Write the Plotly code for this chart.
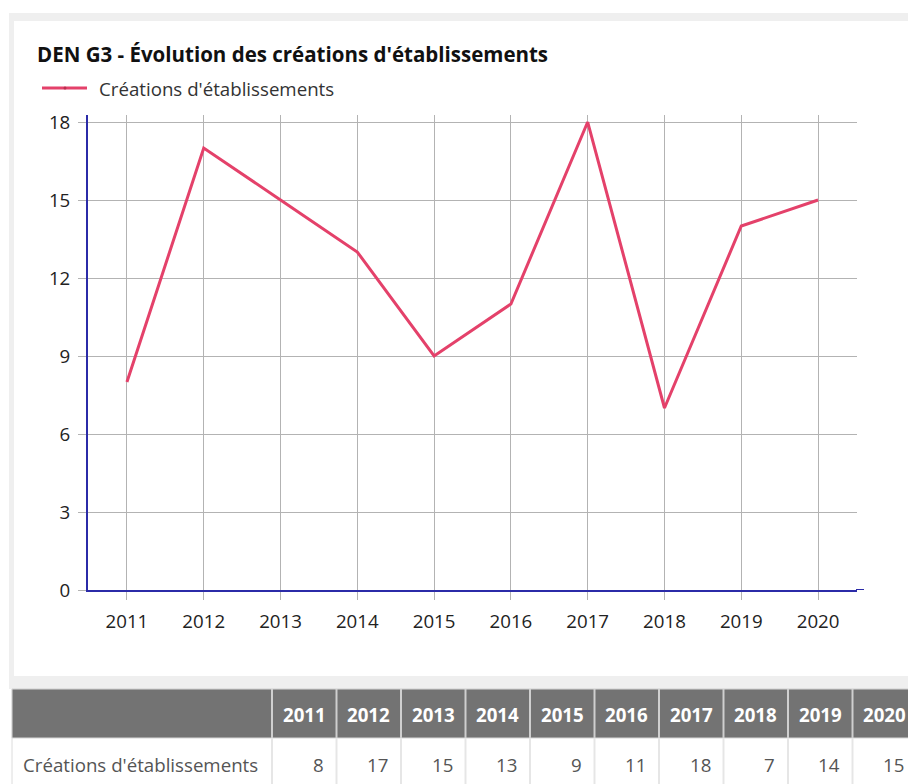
import plotly.graph_objects as go

# Data
years = ["2011", "2012", "2013", "2014", "2015", "2016", "2017", "2018", "2019", "2020"]
creations = [8, 17, 15, 13, 9, 11, 18, 7, 14, 15]
series_name = "Créations d'établissements"
title_text = "DEN G3 - Évolution des créations d'établissements"
y_ticks = [0, 3, 6, 9, 12, 15, 18]

W, H = 908, 784
LINE_COLOR = "#e4416a"
AXIS_COLOR = "#2b2ba8"
GRID_COLOR = "#b3b3b3"
FONT = "Open Sans"
FS = 18.7


def px(x):
    return x / W


def py(y):
    return 1 - y / H


fig = go.Figure()

fig.add_trace(go.Scatter(
    x=years, y=creations, mode="lines", name=series_name,
    line=dict(color=LINE_COLOR, width=3), showlegend=False,
    hoverinfo="x+y",
))

shapes = [
    # card frame
    dict(type="rect", xref="paper", yref="paper", x0=px(9), x1=1, y0=py(689), y1=py(13),
         fillcolor="#efefef", line=dict(width=0), layer="below"),
    dict(type="rect", xref="paper", yref="paper", x0=px(14), x1=1, y0=py(676), y1=py(21),
         fillcolor="white", line=dict(width=0), layer="below"),
    # x axis line continues past the last gridline
    dict(type="line", xref="paper", yref="y", x0=px(856), x1=px(864), y0=0, y1=0,
         line=dict(color=AXIS_COLOR, width=2)),
    # legend swatch
    dict(type="line", xref="paper", yref="paper", x0=px(42), x1=px(87), y0=py(88), y1=py(88),
         line=dict(color=LINE_COLOR, width=3)),
    dict(type="circle", xref="paper", yref="paper", x0=px(63.5), x1=px(66.5), y0=py(89.5), y1=py(86.5),
         fillcolor="#b8304f", line=dict(width=0)),
]

annotations = [
    dict(text=series_name, xref="paper", yref="paper", x=px(97), y=py(88),
         xanchor="left", yanchor="middle", showarrow=False,
         font=dict(family=FONT, size=FS, color="#333333")),
]

# Data table below the chart: one label column, then one column per year
TBL_LEFT, TBL_TOP = 12, 689
HEAD_H, ROW_H = 49, 46
LABEL_W, COL_W = 260, 64.5
head_y0, head_y1 = TBL_TOP, TBL_TOP + HEAD_H
row_y0, row_y1 = head_y1, head_y1 + ROW_H + 10
row_mid = (row_y0 + row_y0 + ROW_H) / 2 + 3

shapes.append(dict(type="rect", xref="paper", yref="paper",
                   x0=px(TBL_LEFT), x1=px(TBL_LEFT + LABEL_W + COL_W * len(years) + 2),
                   y0=py(row_y1), y1=py(head_y0),
                   fillcolor="white", line=dict(color="#dcdcdc", width=1)))
shapes.append(dict(type="rect", xref="paper", yref="paper",
                   x0=px(TBL_LEFT), x1=px(TBL_LEFT + LABEL_W + COL_W * len(years) + 2),
                   y0=py(head_y1), y1=py(head_y0),
                   fillcolor="#737373", line=dict(color="#d8d8d8", width=1)))
annotations.append(dict(text=series_name, xref="paper", yref="paper",
                        x=px(TBL_LEFT + 9), y=py(row_mid),
                        xanchor="left", yanchor="middle", showarrow=False,
                        font=dict(family=FONT, size=FS, color="#555555")))
for i, (yr, val) in enumerate(zip(years, creations)):
    c0 = TBL_LEFT + LABEL_W + COL_W * i
    c1 = c0 + COL_W
    shapes.append(dict(type="line", xref="paper", yref="paper", x0=px(c0), x1=px(c0),
                       y0=py(head_y1), y1=py(head_y0), line=dict(color="#cfcfcf", width=2)))
    shapes.append(dict(type="line", xref="paper", yref="paper", x0=px(c0), x1=px(c0),
                       y0=py(row_y1), y1=py(row_y0), line=dict(color="#e6e6e6", width=2)))
    annotations.append(dict(text=f"<b>{yr}</b>", xref="paper", yref="paper",
                            x=px((c0 + c1) / 2), y=py((head_y0 + head_y1) / 2 + 1),
                            xanchor="center", yanchor="middle", showarrow=False,
                            font=dict(family=FONT, size=FS, color="white")))
    annotations.append(dict(text=str(val), xref="paper", yref="paper",
                            x=px(c1 - 11), y=py(row_mid),
                            xanchor="right", yanchor="middle", showarrow=False,
                            font=dict(family=FONT, size=FS, color="#555555")))

fig.update_layout(
    width=W, height=H, autosize=False,
    margin=dict(l=0, r=0, t=0, b=0, pad=0, autoexpand=False),
    paper_bgcolor="white", plot_bgcolor="white",
    font=dict(family=FONT, size=FS, color="#222222"),
    title=dict(text=f"<b>{title_text}</b>", x=px(37), y=py(55), xanchor="left", yanchor="middle",
               xref="container", yref="container", font=dict(family=FONT, size=20.5, color="#111111")),
    shapes=shapes,
    annotations=annotations,
    showlegend=False,
    xaxis=dict(
        domain=[px(88), px(857)], type="category", range=[-0.507, 9.507],
        showgrid=True, gridcolor=GRID_COLOR, gridwidth=1,
        ticks="outside", ticklen=8, tickcolor=GRID_COLOR, tickwidth=1,
        showline=True, linecolor=AXIS_COLOR, linewidth=2, automargin=False,
        ticklabelstandoff=6,
        tickfont=dict(family=FONT, size=FS, color="#222222"), fixedrange=True,
    ),
    yaxis=dict(
        domain=[py(590), py(115)], range=[0, 18.27],
        tickvals=y_ticks, showgrid=True, gridcolor=GRID_COLOR, gridwidth=1,
        zeroline=False, ticks="outside", ticklen=8, tickcolor=GRID_COLOR, tickwidth=1,
        showline=True, linecolor=AXIS_COLOR, linewidth=2, automargin=False,
        ticklabelstandoff=4,
        tickfont=dict(family=FONT, size=FS, color="#222222"), fixedrange=True,
    ),
)

fig.write_html("out.html")
